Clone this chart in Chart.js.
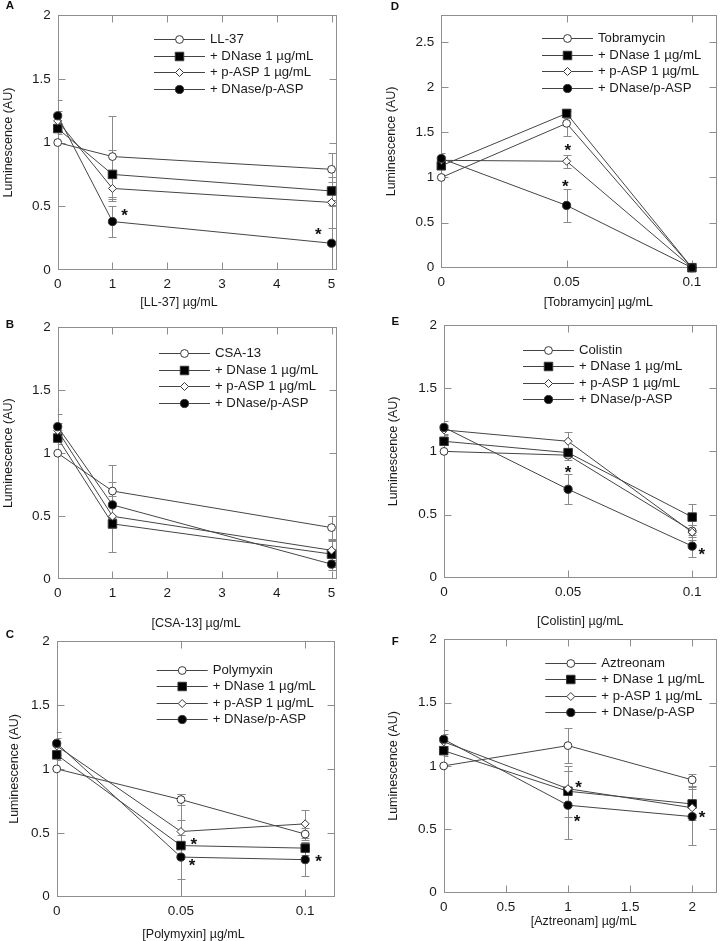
<!DOCTYPE html>
<html>
<head>
<meta charset="utf-8">
<script src="https://cdn.jsdelivr.net/npm/chart.js@4.4.1/dist/chart.umd.min.js"></script>
<style>
  html, body { margin: 0; padding: 0; background: #fff; }
  #page { position: relative; width: 724px; height: 941px; overflow: hidden; }
  #page canvas { position: absolute; }
  .letter {
    position: absolute; transform: translate(-50%, -50%);
    font: bold 11.5px "Liberation Sans", Arial, sans-serif; line-height: 1; color: #111;
  }
</style>
</head>
<body>
<div id="page"></div>
<script>
// ---- data ----
const treatments = ["+ DNase 1 µg/mL", "+ p-ASP 1 µg/mL", "+ DNase/p-ASP"];

// A: LL-37
const ll37Dose = [0, 1, 5];
const ll37Mean = [
  [1.00, 0.89, 0.79],
  [1.11, 0.75, 0.62],
  [1.17, 0.64, 0.53],
  [1.21, 0.38, 0.21]
];
const ll37Err = [
  [0, 0.32, 0.13],
  [0.04, 0.19, 0.07],
  [0.08, 0.10, 0.20],
  [0.12, 0.12, 0.30]
];
const ll37Stars = [[1.22, 0.46], [4.76, 0.31]];

// B: CSA-13
const csaDose = [0, 1, 5];
const csaMean = [
  [1.00, 0.70, 0.41],
  [1.12, 0.44, 0.20],
  [1.18, 0.50, 0.23],
  [1.21, 0.59, 0.12]
];
const csaErr = [
  [0, 0.21, 0.09],
  [0.05, 0.22, 0.10],
  [0.06, 0.09, 0.08],
  [0.10, 0.18, 0.05]
];
const csaStars = [];

// C: Polymyxin
const polyDose = [0, 0.05, 0.1];
const polyMean = [
  [1.00, 0.76, 0.49],
  [1.11, 0.40, 0.38],
  [1.18, 0.51, 0.57],
  [1.20, 0.31, 0.29]
];
const polyErr = [
  [0, 0.04, 0.05],
  [0.04, 0.40, 0.05],
  [0.06, 0.09, 0.11],
  [0.09, 0.17, 0.13]
];
const polyStars = [[0.0552, 0.44], [0.0545, 0.28], [0.1054, 0.31]];

// D: Tobramycin
const tobDose = [0, 0.05, 0.1];
const tobMean = [
  [1.00, 1.60, 0],
  [1.13, 1.71, 0],
  [1.19, 1.18, 0],
  [1.21, 0.69, 0]
];
const tobErr = [
  [0, 0.14, 0],
  [0.04, 0.05, 0],
  [0.05, 0.07, 0],
  [0.06, 0.18, 0]
];
const tobStars = [[0.0505, 1.35], [0.0495, 0.955]];

// E: Colistin
const colDose = [0, 0.05, 0.1];
const colMean = [
  [1.00, 0.97, 0.37],
  [1.08, 0.99, 0.48],
  [1.17, 1.08, 0.36],
  [1.19, 0.70, 0.25]
];
const colErr = [
  [0, 0.04, 0.05],
  [0.03, 0.03, 0.10],
  [0.04, 0.07, 0.06],
  [0.05, 0.12, 0.09]
];
const colStars = [[0.05, 0.87], [0.1039, 0.22]];

// F: Aztreonam
const aztDose = [0, 1, 2];
const aztMean = [
  [1.00, 1.16, 0.89],
  [1.12, 0.80, 0.70],
  [1.19, 0.82, 0.67],
  [1.21, 0.69, 0.60]
];
const aztErr = [
  [0, 0.14, 0.05],
  [0.04, 0.20, 0.13],
  [0.06, 0.14, 0.05],
  [0.07, 0.27, 0.22]
];
const aztStars = [[1.086, 0.865], [1.073, 0.6], [2.08, 0.63]];

// ticks
const peptideTicks = [0, 1, 2, 3, 4, 5];
const peptideTickLabels = ["0", "1", "2", "3", "4", "5"];
const antibioticTicks = [0, 0.05, 0.1];
const antibioticTickLabels = ["0", "0.05", "0.1"];
const aztTicks = [0, 0.5, 1, 1.5, 2];
const aztTickLabels = ["0", "0.5", "1", "1.5", "2"];
const lumTicks = [0, 0.5, 1, 1.5, 2];
const lumTickLabels = ["0", "0.5", "1", "1.5", "2"];
const lumTicksTob = [0, 0.5, 1, 1.5, 2, 2.5];
const lumTickLabelsTob = ["0", "0.5", "1", "1.5", "2", "2.5"];

// ---- look ----
const FONT = "'Liberation Sans', Arial, Helvetica, sans-serif";
const LINE = "#454545";
const EDGE = "#363636";
const FRAME = "#8e8e8e";
const ERRBAR = "#8a8a8a";
const markers = [
  { style: "circle", radius: 3.9, fill: "#ffffff" },
  { style: "rect", radius: 6.0, fill: "#000000" },
  { style: "rectRot", radius: 4.0, fill: "#ffffff" },
  { style: "circle", radius: 4.1, fill: "#000000" }
];

Chart.defaults.font.family = FONT;
Chart.defaults.color = "#1a1a1a";

// page boxes: canvas [left, top, w, h], frame [L, T, R, B] in page px
const panels = [
  { letter: "A", at: [10, 6], drug: "LL-37", dose: ll37Dose, mean: ll37Mean, err: ll37Err, stars: ll37Stars,
    xMax: 5.1, xTicks: peptideTicks, xLabels: peptideTickLabels, yMax: 2, yTicks: lumTicks, yLabels: lumTickLabels,
    canvas: [0, 0, 345, 318], frame: [57.7, 13.3, 337, 270], xTitle: [179, 303], yTitleX: 8.3, legend: [154, 39.3] },
  { letter: "B", at: [10, 325], drug: "CSA-13", dose: csaDose, mean: csaMean, err: csaErr, stars: csaStars,
    xMax: 5.1, xTicks: peptideTicks, xLabels: peptideTickLabels, yMax: 2, yTicks: lumTicks, yLabels: lumTickLabels,
    canvas: [0, 312, 345, 321], frame: [57.7, 323.3, 337, 579.3], xTitle: [196, 623.3], yTitleX: 8.3, legend: [159, 353.3] },
  { letter: "C", at: [10, 635], drug: "Polymyxin", dose: polyDose, mean: polyMean, err: polyErr, stars: polyStars,
    xMax: 0.112, xTicks: antibioticTicks, xLabels: antibioticTickLabels, yMax: 2, yTicks: lumTicks, yLabels: lumTickLabels,
    canvas: [0, 626, 345, 322], frame: [56.7, 640, 335, 896.7], xTitle: [193.5, 935], yTitleX: 15, legend: [156.7, 670] },
  { letter: "D", at: [395, 6.7], drug: "Tobramycin", dose: tobDose, mean: tobMean, err: tobErr, stars: tobStars,
    xMax: 0.11, xTicks: antibioticTicks, xLabels: antibioticTickLabels, yMax: 2.8, yTicks: lumTicksTob, yLabels: lumTickLabelsTob,
    canvas: [362, 0, 362, 318], frame: [441.3, 10, 723, 267.7], xTitle: [598.3, 303], yTitleX: 391.3, legend: [542, 38.3] },
  { letter: "E", at: [395.3, 321.7], drug: "Colistin", dose: colDose, mean: colMean, err: colErr, stars: colStars,
    xMax: 0.11, xTicks: antibioticTicks, xLabels: antibioticTickLabels, yMax: 2, yTicks: lumTicks, yLabels: lumTickLabels,
    canvas: [362, 310, 362, 320], frame: [444, 321.7, 723, 577.7], xTitle: [580.3, 621.7], yTitleX: 393.7, legend: [523, 350] },
  { letter: "F", at: [395.3, 641.7], drug: "Aztreonam", dose: aztDose, mean: aztMean, err: aztErr, stars: aztStars,
    xMax: 2.2, xTicks: aztTicks, xLabels: aztTickLabels, yMax: 2, yTicks: lumTicks, yLabels: lumTickLabels,
    canvas: [362, 624, 362, 324], frame: [443.7, 636, 723, 892.7], xTitle: [583.7, 921.7], yTitleX: 393.7, legend: [545.3, 662.7] }
];

function drawMarker(ctx, m, x, y) {
  ctx.save();
  ctx.fillStyle = m.fill;
  ctx.strokeStyle = EDGE;
  ctx.lineWidth = 1;
  ctx.beginPath();
  if (m.style === "circle") {
    ctx.arc(x, y, m.radius, 0, Math.PI * 2);
  } else if (m.style === "rect") {
    const h = m.radius * Math.SQRT1_2;
    ctx.rect(x - h, y - h, 2 * h, 2 * h);
  } else {
    ctx.moveTo(x, y - m.radius);
    ctx.lineTo(x + m.radius, y);
    ctx.lineTo(x, y + m.radius);
    ctx.lineTo(x - m.radius, y);
    ctx.closePath();
  }
  ctx.fill();
  ctx.stroke();
  ctx.restore();
}

// frame, inward ticks, error bars (under the markers)
const underPlugin = {
  id: "under",
  beforeDatasetsDraw(chart) {
    const p = chart.options.plugins.under.panel;
    const { ctx, chartArea: a, scales: { x, y } } = chart;
    const L = Math.round(a.left) + 0.5, R = Math.round(a.right) - 0.5;
    const T = Math.round(a.top) + 0.5, B = Math.round(a.bottom) - 0.5;
    ctx.save();
    ctx.strokeStyle = FRAME;
    ctx.lineWidth = 1;
    ctx.strokeRect(L, T, R - L, B - T);
    ctx.beginPath();
    x.ticks.forEach(t => {
      const px = Math.round(x.getPixelForValue(t.value)) + 0.5;
      if (px <= L + 1 || px >= R - 1) return;
      ctx.moveTo(px, B); ctx.lineTo(px, B - 7);
      ctx.moveTo(px, T); ctx.lineTo(px, T + 7);
    });
    y.ticks.forEach(t => {
      const py = Math.round(y.getPixelForValue(t.value)) + 0.5;
      if (py <= T + 1 || py >= B - 1) return;
      ctx.moveTo(L, py); ctx.lineTo(L + 7, py);
      ctx.moveTo(R, py); ctx.lineTo(R - 7, py);
    });
    ctx.stroke();

    // error bars
    ctx.beginPath();
    ctx.rect(a.left, a.top - 1, a.width, a.height + 1);
    ctx.clip();
    ctx.strokeStyle = ERRBAR;
    ctx.beginPath();
    p.mean.forEach((row, s) => row.forEach((m, i) => {
      const e = p.err[s][i];
      if (!e) return;
      const px = Math.round(x.getPixelForValue(p.dose[i])) + 0.5;
      const top = Math.round(y.getPixelForValue(m + e)) + 0.5;
      const bot = Math.round(y.getPixelForValue(m - e)) + 0.5;
      ctx.moveTo(px, top); ctx.lineTo(px, bot);
      ctx.moveTo(px - 4, top); ctx.lineTo(px + 4, top);
      ctx.moveTo(px - 4, bot); ctx.lineTo(px + 4, bot);
    }));
    ctx.stroke();
    ctx.restore();
  }
};

// asterisks, x title and legend on top
const overPlugin = {
  id: "over",
  afterDatasetsDraw(chart) {
    const p = chart.options.plugins.over.panel;
    const { ctx, scales: { x, y } } = chart;
    ctx.save();
    ctx.fillStyle = "#111";
    ctx.font = "bold 17px " + FONT;
    ctx.textAlign = "center";
    ctx.textBaseline = "alphabetic";
    p.stars.forEach(([sx, sy]) => {
      ctx.fillText("*", x.getPixelForValue(sx), y.getPixelForValue(sy) + 10);
    });

    ctx.fillStyle = "#1a1a1a";
    ctx.font = "12.5px " + FONT;
    ctx.textBaseline = "middle";
    ctx.fillText("[" + p.drug + "] µg/mL", p.xTitle[0] - p.canvas[0], p.xTitle[1] - p.canvas[1]);

    const lx = p.legend[0] - p.canvas[0];
    const ly = p.legend[1] - p.canvas[1];
    const names = [p.drug].concat(treatments);
    ctx.font = "13.2px " + FONT;
    ctx.textAlign = "left";
    names.forEach((name, s) => {
      const cy = Math.round(ly + s * 16.4) + 0.5;
      ctx.strokeStyle = LINE;
      ctx.lineWidth = 1;
      ctx.beginPath();
      ctx.moveTo(lx, cy);
      ctx.lineTo(lx + 51, cy);
      ctx.stroke();
      drawMarker(ctx, markers[s], lx + 25.5, cy);
      ctx.fillStyle = "#1a1a1a";
      ctx.fillText(name, lx + 56, cy);
    });
    ctx.restore();
  }
};

const page = document.getElementById("page");

panels.forEach(p => {
  const [cl, ct, cw, ch] = p.canvas;
  const [fl, ft, fr, fb] = p.frame;

  const letter = document.createElement("div");
  letter.className = "letter";
  letter.textContent = p.letter;
  letter.style.left = p.at[0] + "px";
  letter.style.top = p.at[1] + "px";

  const canvas = document.createElement("canvas");
  canvas.width = cw;
  canvas.height = ch;
  canvas.style.left = cl + "px";
  canvas.style.top = ct + "px";
  page.appendChild(canvas);
  page.appendChild(letter);

  const titleLine = 12.5 * 1.2;
  const datasets = p.mean.map((row, s) => ({
    label: s === 0 ? p.drug : treatments[s - 1],
    data: row.map((v, i) => ({ x: p.dose[i], y: v })),
    borderColor: LINE,
    borderWidth: 1,
    pointStyle: markers[s].style,
    pointRadius: markers[s].radius,
    pointHoverRadius: markers[s].radius,
    pointBackgroundColor: markers[s].fill,
    pointBorderColor: EDGE,
    pointBorderWidth: 1,
    order: 3 - s,
    clip: false
  }));

  new Chart(canvas, {
    type: "line",
    data: { datasets },
    plugins: [underPlugin, overPlugin],
    options: {
      responsive: false,
      animation: false,
      devicePixelRatio: 1,
      layout: { padding: { left: 0, top: ft - ct, right: cl + cw - fr, bottom: 0 } },
      plugins: {
        legend: { display: false },
        tooltip: { enabled: false },
        under: { panel: p },
        over: { panel: p }
      },
      scales: {
        x: {
          type: "linear",
          min: 0,
          max: p.xMax,
          afterBuildTicks: sc => { sc.ticks = p.xTicks.map(v => ({ value: v })); },
          afterFit: sc => { sc.height = ct + ch - fb; },
          grid: { display: false, drawTicks: false },
          border: { display: false },
          ticks: {
            padding: 6,
            maxRotation: 0,
            autoSkip: false,
            font: { size: 13.5 },
            callback: (v, i) => p.xLabels[i]
          }
        },
        y: {
          type: "linear",
          min: 0,
          max: p.yMax,
          afterBuildTicks: sc => { sc.ticks = p.yTicks.map(v => ({ value: v })); },
          afterFit: sc => { sc.width = fl - cl; },
          grid: { display: false, drawTicks: false },
          border: { display: false },
          ticks: {
            padding: 7,
            font: { size: 13.5 },
            callback: (v, i) => p.yLabels[i]
          },
          title: {
            display: true,
            text: "Luminescence (AU)",
            font: { size: 12.5 },
            padding: { top: p.yTitleX - cl - titleLine / 2, bottom: 0 }
          }
        }
      }
    }
  });
});
</script>
</body>
</html>
